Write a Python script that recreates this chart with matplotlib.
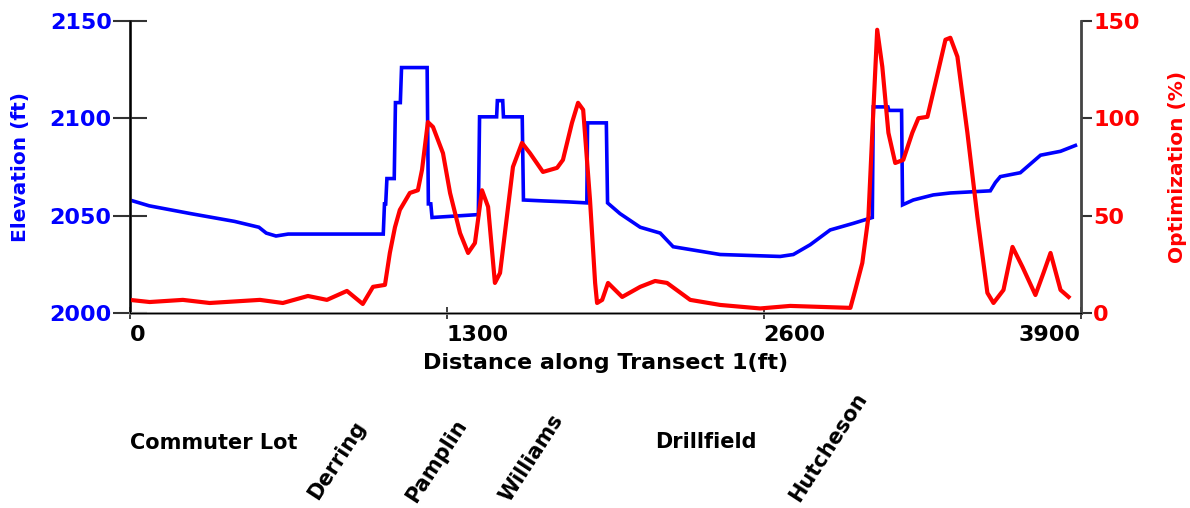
import numpy as np
import matplotlib.pyplot as plt

# elevation profile along transect 1 (ft)
elev_dist = [0, 80, 250, 430, 530, 560, 600, 650, 1040, 1045, 1050, 1055, 1085, 1090, 1110,
             1115, 1220, 1225, 1235, 1240, 1430, 1435, 1505, 1508, 1530, 1533, 1610, 1615,
             1700, 1800, 1875, 1878, 1955, 1960, 2011, 2094, 2176, 2229, 2422, 2668, 2722,
             2791, 2873, 2968, 3046, 3050, 3110, 3114, 3166, 3170, 3214, 3296, 3366, 3530,
             3551, 3571, 3653, 3736, 3818, 3879]
elev_ft = [2058, 2055, 2051, 2047, 2044, 2041, 2039.5, 2040.5, 2040.5, 2056, 2056, 2069, 2069,
           2108, 2108, 2126, 2126, 2056, 2056, 2049, 2050.5, 2100.7, 2100.7, 2109, 2109, 2100.7,
           2100.7, 2058, 2057.5, 2057, 2056.5, 2097.6, 2097.6, 2056.5, 2051, 2044, 2041, 2034,
           2030, 2029, 2030, 2035, 2042.6, 2046, 2049, 2105.8, 2105.8, 2104, 2104, 2055.5, 2058,
           2060.6, 2061.6, 2062.7, 2067, 2070, 2072, 2081, 2083, 2086]

# optimization (%)
opt_dist = [0, 82, 218, 328, 534, 628, 731, 809, 891, 956, 998, 1047, 1067, 1088, 1108, 1149,
            1182, 1199, 1223, 1244, 1285, 1314, 1355, 1388, 1416, 1445, 1470, 1498, 1519, 1572,
            1609, 1642, 1695, 1753, 1777, 1814, 1839, 1860, 1888, 1909, 1917, 1938, 1962, 2020,
            2094, 2155, 2204, 2299, 2422, 2586, 2709, 2832, 2956, 2976, 3005, 3030, 3046, 3066,
            3087, 3112, 3140, 3173, 3210, 3235, 3272, 3305, 3346, 3366, 3395, 3436, 3477, 3518,
            3543, 3584, 3621, 3662, 3715, 3748, 3777, 3818, 3851]
opt_pct = [6.7, 5.6, 6.7, 5.1, 6.7, 5.1, 8.7, 6.7, 11.3, 4.6, 13.4, 14.4, 30.8, 44, 52.9, 61.6,
           63, 73.5, 98, 95.5, 82, 61.6, 41, 30.8, 35.9, 63, 54.5, 15.4, 20.5, 75, 87.3, 82,
           72.4, 74.5, 78.6, 97.6, 107.9, 104.3, 58.1, 15.4, 5.1, 6.7, 15.4, 8.2, 13.4, 16.4,
           15.4, 6.7, 4.1, 2.3, 3.6, 3.1, 2.6, 11.8, 25.7, 49.3, 92.5, 145.4, 126.4, 92.5, 77,
           78.6, 92.5, 100, 100.7, 118.2, 140.3, 141.3, 131.6, 92.5, 49.3, 10.3, 5.1, 11.8,
           33.9, 23.6, 9.2, 20.5, 30.8, 11.8, 8.2]

x_ticks = [0, 1300, 2600, 3900]
elev_ticks = [2000, 2050, 2100, 2150]
opt_ticks = [0, 50, 100, 150]

# place names and where they sit (figure fraction)
places = ["Commuter Lot", "Derring", "Pamplin", "Williams", "Drillfield", "Hutcheson"]
place_x = [0.180, 0.283, 0.367, 0.447, 0.593, 0.696]
place_y = [0.128, 0.094, 0.092, 0.098, 0.130, 0.120]
place_rot = [0, 57, 57, 57, 0, 57]

fig = plt.figure(figsize=(11.9, 5.08), dpi=100)
ax = fig.add_axes([0.109, 0.384, 0.799, 0.575])
ax2 = ax.twinx()

ax.plot(elev_dist, elev_ft, color="#0000ff", lw=2.6, solid_joinstyle="miter")
ax2.plot(opt_dist, opt_pct, color="#ff0000", lw=3)

ax.set_xlim(0, 3900)
ax.set_ylim(2000, 2150)
ax2.set_ylim(0, 150)

ax.set_xticks(x_ticks)
ax.set_yticks(elev_ticks)
ax2.set_yticks(opt_ticks)

ax.tick_params(axis="y", direction="inout", length=24, width=1.5, color="#333333",
               labelcolor="#0000ff", labelsize=16, pad=1)
ax.tick_params(axis="x", direction="inout", length=9, width=1.3, color="#333333",
               labelsize=16, pad=4)
ax2.tick_params(axis="y", direction="out", length=8, width=1.5, color="#333333",
                labelcolor="#ff0000", labelsize=16, pad=1)
for lab in ax.get_yticklabels() + ax.get_xticklabels() + ax2.get_yticklabels():
    lab.set_fontweight("bold")
for lab, ha in zip(ax.get_xticklabels(), ["left", "left", "left", "right"]):
    lab.set_ha(ha)

for a in (ax, ax2):
    a.spines["top"].set_visible(False)
ax.spines["left"].set_color("#222222")
ax.spines["left"].set_linewidth(2)
ax2.spines["right"].set_color("#444444")
ax2.spines["right"].set_linewidth(2)
ax.spines["bottom"].set_color("#888888")
ax.spines["bottom"].set_linewidth(2)

ax.set_xlabel("Distance along Transect 1(ft)", fontsize=16, fontweight="bold", labelpad=6)
ax.set_ylabel("Elevation (ft)", fontsize=14.5, fontweight="bold", color="#0000ff", labelpad=14)
ax2.set_ylabel("Optimization (%)", fontsize=14.5, fontweight="bold", color="#ff0000", labelpad=20)

for name, px, py, r in zip(places, place_x, place_y, place_rot):
    fig.text(px, py, name, rotation=r, fontsize=15, fontweight="bold",
             ha="center", va="center", rotation_mode="anchor")

fig.savefig("out.png", dpi=100)
